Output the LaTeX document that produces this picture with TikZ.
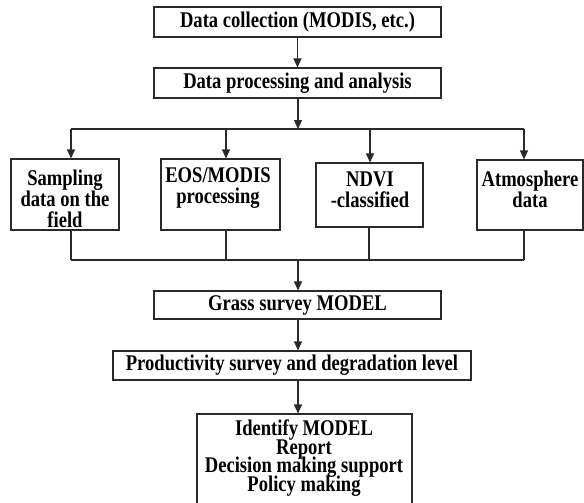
\documentclass[tikz,border=0pt]{standalone}
\usepackage{fontspec}
\setmainfont{Liberation Serif}[FakeStretch=0.83]
\usetikzlibrary{arrows.meta}
\definecolor{linec}{HTML}{2A2A2A}
\newcommand\tightlines{\setlength{\lineskiplimit}{-20pt}}
\begin{document}
\begin{tikzpicture}[x=1pt,y=-1pt,
  box/.style={draw=linec, line width=1.1pt, rectangle, inner sep=0pt,
    font=\fontsize{22.4}{21}\selectfont\bfseries, align=center},
  txt/.style={inner sep=0pt, align=center,
    font=\fontsize{22.4}{21.3}\selectfont\bfseries\tightlines},
  conn/.style={draw=linec, line width=1.1pt},
  arr/.style={conn, -{Triangle[width=8pt,length=9pt]}}]
\useasboundingbox (0,0) rectangle (584,503);

% main chain (top)
\node[box, minimum width=287pt, minimum height=30pt] (T1) at (297.5,22)
  {Data collection (MODIS, etc.)};
\node[box, minimum width=287pt, minimum height=30pt] (T2) at (297.5,83)
  {Data processing and analysis};

% four data sources
\node[box, minimum width=108pt, minimum height=71pt] (A) at (65,194.5) {};
\node[box, minimum width=119pt, minimum height=71pt] (B) at (220.5,194.5) {};
\node[box, minimum width=107pt, minimum height=64pt] (C) at (369.5,195) {};
\node[box, minimum width=106pt, minimum height=70pt] (D) at (530,195) {};
\node[txt] (At) at (65,199) {Sampling\\data on the\\field};
\node[txt] (Bt) at (218,188) {EOS/MODIS\\processing};
\node[txt] (Ct) at (370,190) {NDVI\\-classified};
\node[txt] (Dt) at (530,189) {Atmosphere\\data};

% model and outputs
\node[box, minimum width=287pt, minimum height=28pt] (G) at (297.5,305)
  {Grass survey MODEL};
\node[box, minimum width=358pt, minimum height=29pt] (P) at (292,365.5)
  {Productivity survey and degradation level};
\node[box, minimum width=215pt, minimum height=106pt] (F) at (304.5,467) {};
\node[txt, font=\fontsize{22.4}{18.7}\selectfont\bfseries\tightlines]
  (Ft) at (304,458)
  {Identify MODEL\\Report\\Decision making support\\Policy making};

% branch and merge points
\coordinate (s) at (298,129);
\coordinate (sA) at (71,129);
\coordinate (sB) at (226,129);
\coordinate (sC) at (370,129);
\coordinate (sD) at (524,129);
\coordinate (m) at (298,260);
\coordinate (mA) at (71,260);
\coordinate (mB) at (226,260);
\coordinate (mC) at (369,260);
\coordinate (mD) at (524,260);

% connectors
\draw[arr] (T1) -- (T2);
\draw[arr] (T2.south -| s) -- (s);
\draw[conn] (sA) -- (sD);
\draw[arr] (sA) -- (sA |- A.north);
\draw[arr] (sB) -- (sB |- B.north);
\draw[arr] (sC) -- (sC |- C.north);
\draw[arr] (sD) -- (sD |- D.north);
\draw[conn] (mA |- A.south) -- (mA);
\draw[conn] (mB |- B.south) -- (mB);
\draw[conn] (mC |- C.south) -- (mC);
\draw[conn] (mD |- D.south) -- (mD);
\draw[conn] (mA) -- (mD);
\draw[arr] (m) -- (m |- G.north);
\draw[arr] (m |- G.south) -- (m |- P.north);
\draw[arr] (m |- P.south) -- (m |- F.north);
\end{tikzpicture}
\end{document}
